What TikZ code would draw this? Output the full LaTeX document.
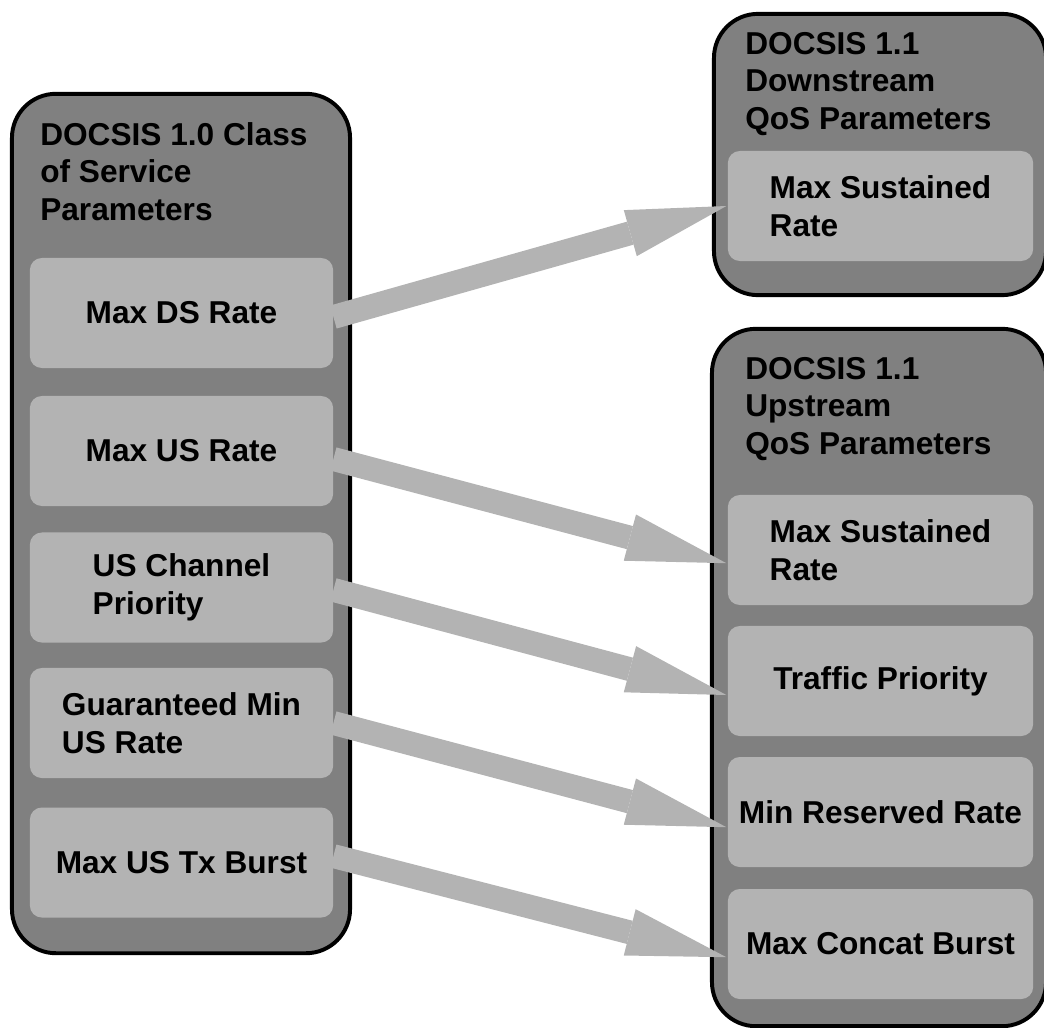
\documentclass[tikz,border=0pt]{standalone}
\usepackage{fontspec}
\setmainfont{Liberation Sans}
\usetikzlibrary{arrows.meta,positioning}
\definecolor{boxgray}{RGB}{128,128,128}
\definecolor{paramgray}{RGB}{179,179,179}
\tikzset{>={Triangle[length=71pt,width=34pt,line width=0pt]}}
\tikzset{group/.style={draw=black, line width=2.8pt, fill=boxgray,
    rounded corners=1.1cm, inner sep=0pt}}
\tikzset{param/.style={fill=paramgray, rounded corners=0.3cm,
    minimum width=7.58cm, minimum height=2.75cm, inner sep=0pt, align=left}}
\tikzset{heading/.style={anchor=north west, inner sep=0pt, align=left}}
\tikzset{maparrow/.style={->, draw=paramgray, line width=17pt}}
\tikzset{every node/.style={font=\bfseries\fontsize{22.5}{26.6}\selectfont}}

\begin{document}
\begin{tikzpicture}[x=0.025cm, y=-0.025cm]
    \useasboundingbox (0,0) rectangle (1044,1027);

    % the three groups
    \node[group, minimum width=8.45cm, minimum height=21.48cm] (cos) at (181,523.5) {};
    \node[group, minimum width=8.3cm, minimum height=7.03cm] (dsqos) at (880,154.5) {};
    \node[group, minimum width=8.35cm, minimum height=17.43cm] (usqos) at (879,677.5) {};

    \node[heading] (costitle) at (40,122) {DOCSIS 1.0 Class\\of Service\\Parameters};
    \node[heading] (dstitle) at (745,32) {DOCSIS 1.1\\Downstream\\QoS Parameters};
    \node[heading] (ustitle) at (745,357) {DOCSIS 1.1\\Upstream\\QoS Parameters};

    % DOCSIS 1.0 parameters
    \node[param] (maxds) at (181.5,313) {Max DS Rate};
    \node[param] (maxus) at (181.5,451) {Max US Rate};
    \node[param] (chprio) at (181.5,587.5) {US Channel\\Priority};
    \node[param] (minus) at (181.5,723) {Guaranteed Min\\US Rate};
    \node[param] (txburst) at (181.5,862.5) {Max US Tx Burst};

    % DOCSIS 1.1 parameters
    \node[param, minimum width=7.63cm] (dsrate) at (880.5,206) {Max Sustained\\Rate};
    \node[param, minimum width=7.63cm] (usrate) at (880.5,550) {Max Sustained\\Rate};
    \node[param, minimum width=7.63cm] (trprio) at (880.5,681) {Traffic Priority};
    \node[param, minimum width=7.63cm] (minres) at (880.5,812) {Min Reserved Rate};
    \node[param, minimum width=7.63cm] (concat) at (880.5,944) {Max Concat Burst};

    \draw [maparrow] ([yshift=-0.1cm]maxds.east) to ([xshift=-0.03cm]dsrate.west);
    \draw [maparrow] ([yshift=-0.2cm]maxus.east) to ([xshift=-0.03cm,yshift=-0.33cm]usrate.west);
    \draw [maparrow] ([yshift=-0.06cm]chprio.east) to ([xshift=-0.03cm,yshift=-0.35cm]trprio.west);
    \draw [maparrow] (minus.east) to ([xshift=-0.03cm,yshift=-0.38cm]minres.west);
    \draw [maparrow] ([yshift=0.16cm]txburst.east) to ([xshift=-0.03cm,yshift=-0.33cm]concat.west);

\end{tikzpicture}
\end{document}
